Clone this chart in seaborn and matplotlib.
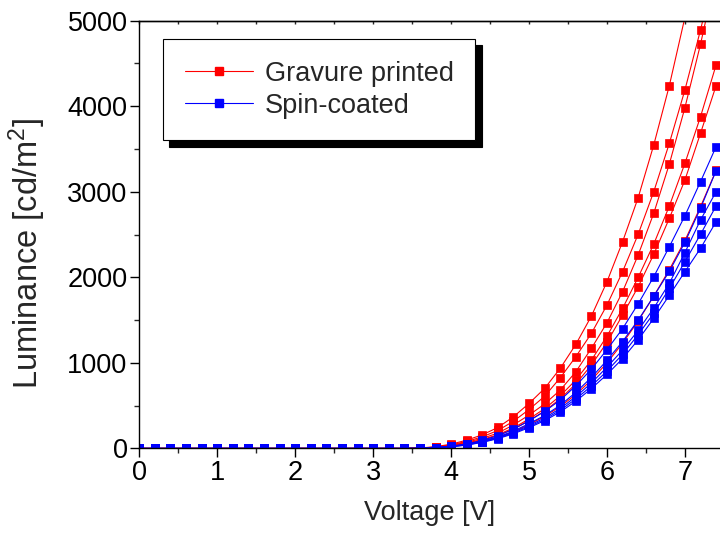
import matplotlib
matplotlib.use("Agg")
import matplotlib.pyplot as plt
from matplotlib.lines import Line2D
from matplotlib.ticker import MultipleLocator
import pandas as pd
import seaborn as sns

# bias voltage [V], 0.2 V steps
voltage = [0.0, 0.2, 0.4, 0.6, 0.8, 1.0, 1.2, 1.4, 1.6, 1.8, 2.0, 2.2, 2.4,
           2.6, 2.8, 3.0, 3.2, 3.4, 3.6, 3.8, 4.0, 4.2, 4.4, 4.6, 4.8, 5.0,
           5.2, 5.4, 5.6, 5.8, 6.0, 6.2, 6.4, 6.6, 6.8, 7.0, 7.2, 7.4]

# luminance [cd/m2], gravure printed devices
gravure_1 = [0, 0, 0, 0, 0, 0, 0, 0, 0, 0, 0, 0, 0, 0, 0, 0, 0, 0,
             5, 20, 50, 97, 159, 245, 370, 526, 702, 936, 1216, 1547,
             1949, 2416, 2931, 3547, 4241, 5040, 5900, 6800]
gravure_2 = [0, 0, 0, 0, 0, 0, 0, 0, 0, 0, 0, 0, 0, 0, 0, 0, 0, 0,
             4, 16, 42, 82, 136, 210, 318, 455, 610, 826, 1072, 1345,
             1676, 2066, 2503, 3001, 3567, 4191, 4892, 5650]
gravure_3 = [0, 0, 0, 0, 0, 0, 0, 0, 0, 0, 0, 0, 0, 0, 0, 0, 0, 0,
             3, 15, 38, 72, 118, 180, 275, 390, 520, 682, 896, 1170,
             1469, 1832, 2261, 2749, 3325, 3984, 4725, 5550]
gravure_4 = [0, 0, 0, 0, 0, 0, 0, 0, 0, 0, 0, 0, 0, 0, 0, 0, 0, 0,
             3, 12, 32, 62, 104, 160, 240, 345, 465, 615, 800, 1033,
             1313, 1637, 2000, 2389, 2834, 3333, 3878, 4483]
gravure_5 = [0, 0, 0, 0, 0, 0, 0, 0, 0, 0, 0, 0, 0, 0, 0, 0, 0, 0,
             2, 11, 30, 58, 97, 150, 226, 325, 438, 580, 755, 975,
             1240, 1559, 1890, 2269, 2690, 3138, 3684, 4241]
gravure_6 = [0, 0, 0, 0, 0, 0, 0, 0, 0, 0, 0, 0, 0, 0, 0, 0, 0, 0,
             2, 10, 27, 50, 84, 130, 195, 280, 375, 490, 630, 800,
             1000, 1230, 1490, 1780, 2090, 2430, 2826, 3250]

# luminance [cd/m2], spin-coated devices
spin_1 = [0, 0, 0, 0, 0, 0, 0, 0, 0, 0, 0, 0, 0, 0, 0, 0, 0, 0,
          2, 10, 27, 52, 95, 150, 225, 323, 433, 565, 732, 927,
          1155, 1400, 1690, 2007, 2358, 2720, 3118, 3528]
spin_2 = [0, 0, 0, 0, 0, 0, 0, 0, 0, 0, 0, 0, 0, 0, 0, 0, 0, 0,
          2, 9, 25, 47, 86, 135, 203, 290, 385, 505, 655, 830,
          1030, 1250, 1500, 1780, 2070, 2410, 2807, 3247]
spin_3 = [0, 0, 0, 0, 0, 0, 0, 0, 0, 0, 0, 0, 0, 0, 0, 0, 0, 0,
          1, 8, 23, 44, 80, 127, 190, 268, 357, 468, 605, 765,
          950, 1150, 1380, 1640, 1930, 2290, 2670, 3001]
spin_4 = [0, 0, 0, 0, 0, 0, 0, 0, 0, 0, 0, 0, 0, 0, 0, 0, 0, 0,
          1, 7, 21, 41, 75, 120, 181, 255, 340, 447, 578, 730,
          905, 1100, 1330, 1580, 1870, 2183, 2503, 2834]
spin_5 = [0, 0, 0, 0, 0, 0, 0, 0, 0, 0, 0, 0, 0, 0, 0, 0, 0, 0,
          1, 7, 20, 39, 71, 114, 172, 243, 325, 427, 552, 700,
          865, 1050, 1270, 1520, 1790, 2066, 2339, 2650]

groups = ["Gravure printed", "Spin-coated"]
colors = {"Gravure printed": "#ff0000", "Spin-coated": "#0000ff"}

series = [("Gravure printed", "g1", gravure_1), ("Gravure printed", "g2", gravure_2),
          ("Gravure printed", "g3", gravure_3), ("Gravure printed", "g4", gravure_4),
          ("Gravure printed", "g5", gravure_5), ("Gravure printed", "g6", gravure_6),
          ("Spin-coated", "s1", spin_1), ("Spin-coated", "s2", spin_2),
          ("Spin-coated", "s3", spin_3), ("Spin-coated", "s4", spin_4),
          ("Spin-coated", "s5", spin_5)]

rows = []
for group, sample, values in series:
    for v, lum in zip(voltage, values):
        rows.append({"group": group, "sample": sample, "voltage": v, "luminance": lum})
df = pd.DataFrame(rows)

sns.set_style("ticks")
plt.rcParams["font.family"] = ["Liberation Sans", "DejaVu Sans"]
plt.rcParams["mathtext.fontset"] = "custom"
plt.rcParams["mathtext.rm"] = "Liberation Sans"
plt.rcParams["mathtext.it"] = "Liberation Sans:italic"
plt.rcParams["mathtext.bf"] = "Liberation Sans:bold"

fig = plt.figure(figsize=(7.2, 5.39), dpi=100)
ax = fig.add_axes([0.1935, 0.168, 0.8065, 0.7936])

sns.lineplot(data=df, x="voltage", y="luminance", hue="group", units="sample",
             estimator=None, hue_order=groups, palette=colors, marker="s",
             markersize=5.6, linewidth=0.8, legend=False, sort=False, ax=ax)
for line in ax.lines:
    line.set_markeredgecolor(line.get_color())
    line.set_markeredgewidth(0.5)

ax.set_xlim(0, 7.45)
ax.set_ylim(0, 5000)
ax.xaxis.set_major_locator(MultipleLocator(1))
ax.xaxis.set_minor_locator(MultipleLocator(0.5))
ax.yaxis.set_major_locator(MultipleLocator(1000))
ax.yaxis.set_minor_locator(MultipleLocator(500))
ax.tick_params(which="major", direction="out", length=6.5, width=1, labelsize=19.5,
               colors="black", pad=2)
ax.tick_params(which="minor", direction="out", length=3.3, width=1)
ax.spines["right"].set_visible(False)
for s in ["left", "bottom", "top"]:
    ax.spines[s].set_linewidth(1)
    ax.spines[s].set_color("black")

top = ax.secondary_xaxis("top")
top.xaxis.set_major_locator(MultipleLocator(0.5))
top.tick_params(direction="in", length=2, width=1, labeltop=False)
top.spines["top"].set_linewidth(1)

ax.set_xlabel("Voltage [V]", fontsize=19.5, labelpad=10)
ax.set_ylabel(r"Luminance [cd/m$^\mathregular{2}$]", fontsize=23.5)
ax.yaxis.set_label_coords(-0.157, 0.455)

handles = [Line2D([], [], color=colors[g], marker="s", markersize=5.6, linewidth=0.8,
                  markeredgecolor=colors[g]) for g in groups]
leg = ax.legend(handles, groups, loc="upper left", bbox_to_anchor=(0.041, 0.957),
                borderaxespad=0, fontsize=19.5, frameon=True, fancybox=False,
                edgecolor="black", framealpha=1, borderpad=0.8, labelspacing=0.22,
                handlelength=2.5, handletextpad=0.45,
                shadow={"color": "black", "alpha": 1, "ox": 4.5, "oy": -4.5})
leg.get_frame().set_linewidth(0.8)

fig.savefig("out.png", dpi=100)
